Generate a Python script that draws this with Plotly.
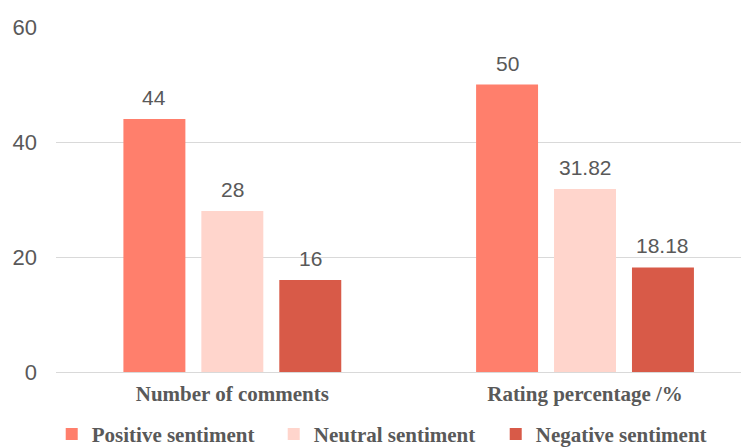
import plotly.graph_objects as go

categories = ["Number of comments", "Rating percentage /%"]
series_names = ["Positive sentiment", "Neutral sentiment", "Negative sentiment"]
positive = [44, 50]
neutral = [28, 31.82]
negative = [16, 18.18]
labels_positive = ["44", "50"]
labels_neutral = ["28", "31.82"]
labels_negative = ["16", "18.18"]
colors = ["#FF7F6C", "#FFD5CC", "#D85A48"]
y_ticks = [0, 20, 40, 60]

BARGAP = 0.337
GROUPGAP = 0.205
n_series = 3
slot = (1 - BARGAP) / n_series

fig = go.Figure()
annotations = []
all_vals = [positive, neutral, negative]
all_labs = [labels_positive, labels_neutral, labels_negative]
for k, (name, vals, labs, col) in enumerate(zip(series_names, all_vals, all_labs, colors)):
    fig.add_trace(go.Bar(
        x=categories, y=vals, name=name,
        marker=dict(color=col, line=dict(width=0)),
    ))
    offset = (k - (n_series - 1) / 2) * slot
    for i, (v, lab) in enumerate(zip(vals, labs)):
        annotations.append(dict(
            x=i + offset, y=v, xref="x", yref="y", text=lab, showarrow=False,
            yanchor="bottom", yshift=8,
            font=dict(family="Liberation Sans, Arial", size=21, color="#595959"),
        ))

fig.update_layout(
    width=741, height=440,
    margin=dict(l=48, r=0, t=19, b=76, autoexpand=False),
    paper_bgcolor="white", plot_bgcolor="white",
    barmode="group", bargap=BARGAP, bargroupgap=GROUPGAP,
    annotations=annotations,
    showlegend=True,
    legend=dict(orientation="h", xref="container", yref="container",
                x=0.059, xanchor="left", y=0.031, yanchor="middle",
                font=dict(family="Liberation Serif, Times New Roman", size=21,
                          color="#595959", weight="bold"),
                itemwidth=30, entrywidth=177, entrywidthmode="pixels",
                traceorder="normal"),
    xaxis=dict(type="category", range=[-0.5, 1.465], showline=False, ticks="",
               automargin=False,
               tickfont=dict(family="Liberation Serif, Times New Roman", size=21,
                             color="#595959", weight="bold"),
               showgrid=False, ticklabelstandoff=7),
    yaxis=dict(range=[0, 60], tickvals=y_ticks, showgrid=True, gridcolor="#D9D9D9",
               gridwidth=1, zeroline=True, zerolinecolor="#D9D9D9", zerolinewidth=1,
               automargin=False,
               tickfont=dict(family="Liberation Sans, Arial", size=22, color="#595959"),
               ticks="", ticklabelstandoff=18),
)
fig.write_html("out.html")
